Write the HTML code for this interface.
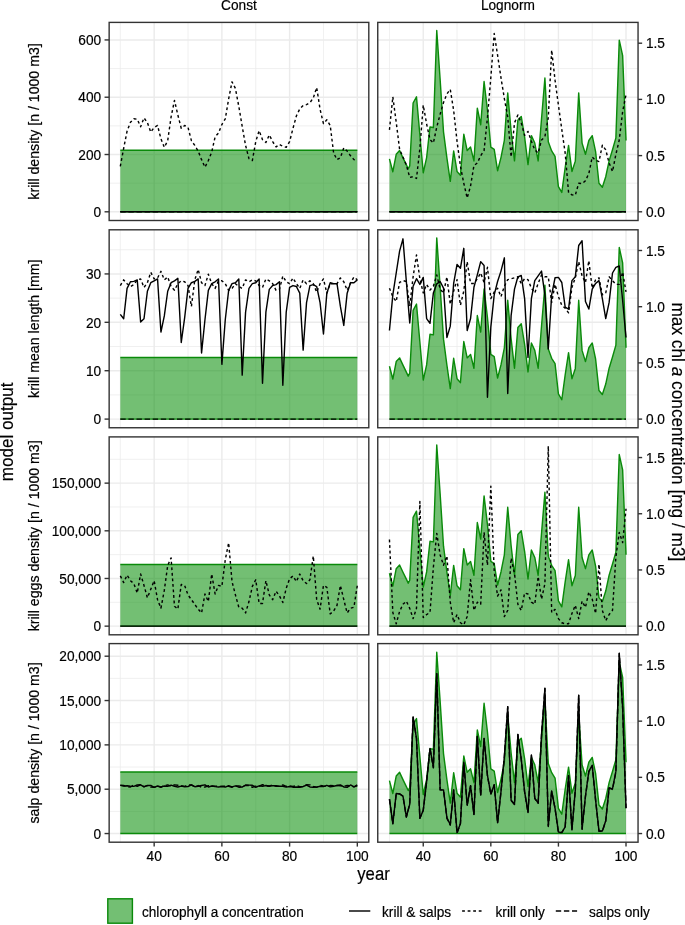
<!DOCTYPE html>
<html lang="en"><head><meta charset="utf-8"><title>Model output</title>
<style>html,body{margin:0;padding:0;background:#fff;}body{width:685px;height:925px;overflow:hidden;font-family:"Liberation Sans", Arial, Helvetica, sans-serif;}svg{display:block}svg text{stroke:#000;stroke-width:.18px;stroke-linejoin:round}</style>
</head><body>
<svg width="685" height="925" viewBox="0 0 685 925" font-family='"Liberation Sans", Arial, Helvetica, sans-serif'>
<rect width="685" height="925" fill="#fff"/>
<g>
<clipPath id="c00"><rect x="109.15" y="22.4" width="259.65" height="198.10"/></clipPath>
<g clip-path="url(#c00)">
<line x1="109.15" x2="368.80" y1="183.16" y2="183.16" stroke="#ebebeb" stroke-width="0.75"/>
<line x1="109.15" x2="368.80" y1="125.87" y2="125.87" stroke="#ebebeb" stroke-width="0.75"/>
<line x1="109.15" x2="368.80" y1="68.58" y2="68.58" stroke="#ebebeb" stroke-width="0.75"/>
<line x1="120.30" x2="120.30" y1="22.4" y2="220.5" stroke="#ebebeb" stroke-width="0.75"/>
<line x1="188.02" x2="188.02" y1="22.4" y2="220.5" stroke="#ebebeb" stroke-width="0.75"/>
<line x1="255.74" x2="255.74" y1="22.4" y2="220.5" stroke="#ebebeb" stroke-width="0.75"/>
<line x1="323.46" x2="323.46" y1="22.4" y2="220.5" stroke="#ebebeb" stroke-width="0.75"/>
<line x1="109.15" x2="368.80" y1="211.80" y2="211.80" stroke="#ebebeb" stroke-width="1.4"/>
<line x1="109.15" x2="368.80" y1="154.51" y2="154.51" stroke="#ebebeb" stroke-width="1.4"/>
<line x1="109.15" x2="368.80" y1="97.22" y2="97.22" stroke="#ebebeb" stroke-width="1.4"/>
<line x1="109.15" x2="368.80" y1="39.93" y2="39.93" stroke="#ebebeb" stroke-width="1.4"/>
<line x1="154.16" x2="154.16" y1="22.4" y2="220.5" stroke="#ebebeb" stroke-width="1.4"/>
<line x1="221.88" x2="221.88" y1="22.4" y2="220.5" stroke="#ebebeb" stroke-width="1.4"/>
<line x1="289.60" x2="289.60" y1="22.4" y2="220.5" stroke="#ebebeb" stroke-width="1.4"/>
<line x1="357.32" x2="357.32" y1="22.4" y2="220.5" stroke="#ebebeb" stroke-width="1.4"/>
<polygon points="120.30,211.80 120.30,150.20 357.32,150.20 357.32,211.80" fill="#008b00" fill-opacity="0.55" stroke="none"/>
<polyline points="120.30,150.20 357.32,150.20" fill="none" stroke="#0a8a0a" stroke-width="1.42" stroke-linejoin="round"/>
<line x1="120.30" x2="357.32" y1="211.8" y2="211.8" stroke="#0a8a0a" stroke-width="1.42"/>
<polyline points="120.30,211.80 123.69,211.80 127.07,211.80 130.46,211.80 133.84,211.80 137.23,211.80 140.62,211.80 144.00,211.80 147.39,211.80 150.77,211.80 154.16,211.80 157.55,211.80 160.93,211.80 164.32,211.80 167.70,211.80 171.09,211.80 174.48,211.80 177.86,211.80 181.25,211.80 184.63,211.80 188.02,211.80 191.41,211.80 194.79,211.80 198.18,211.80 201.56,211.80 204.95,211.80 208.34,211.80 211.72,211.80 215.11,211.80 218.49,211.80 221.88,211.80 225.27,211.80 228.65,211.80 232.04,211.80 235.42,211.80 238.81,211.80 242.20,211.80 245.58,211.80 248.97,211.80 252.35,211.80 255.74,211.80 259.13,211.80 262.51,211.80 265.90,211.80 269.28,211.80 272.67,211.80 276.06,211.80 279.44,211.80 282.83,211.80 286.21,211.80 289.60,211.80 292.99,211.80 296.37,211.80 299.76,211.80 303.14,211.80 306.53,211.80 309.92,211.80 313.30,211.80 316.69,211.80 320.07,211.80 323.46,211.80 326.85,211.80 330.23,211.80 333.62,211.80 337.00,211.80 340.39,211.80 343.78,211.80 347.16,211.80 350.55,211.80 353.93,211.80 357.32,211.80" fill="none" stroke="#000" stroke-width="1.42" stroke-linejoin="round"/>
<polyline points="120.30,211.80 123.69,211.80 127.07,211.80 130.46,211.80 133.84,211.80 137.23,211.80 140.62,211.80 144.00,211.80 147.39,211.80 150.77,211.80 154.16,211.80 157.55,211.80 160.93,211.80 164.32,211.80 167.70,211.80 171.09,211.80 174.48,211.80 177.86,211.80 181.25,211.80 184.63,211.80 188.02,211.80 191.41,211.80 194.79,211.80 198.18,211.80 201.56,211.80 204.95,211.80 208.34,211.80 211.72,211.80 215.11,211.80 218.49,211.80 221.88,211.80 225.27,211.80 228.65,211.80 232.04,211.80 235.42,211.80 238.81,211.80 242.20,211.80 245.58,211.80 248.97,211.80 252.35,211.80 255.74,211.80 259.13,211.80 262.51,211.80 265.90,211.80 269.28,211.80 272.67,211.80 276.06,211.80 279.44,211.80 282.83,211.80 286.21,211.80 289.60,211.80 292.99,211.80 296.37,211.80 299.76,211.80 303.14,211.80 306.53,211.80 309.92,211.80 313.30,211.80 316.69,211.80 320.07,211.80 323.46,211.80 326.85,211.80 330.23,211.80 333.62,211.80 337.00,211.80 340.39,211.80 343.78,211.80 347.16,211.80 350.55,211.80 353.93,211.80 357.32,211.80" fill="none" stroke="#000" stroke-width="1.42" stroke-linejoin="round" stroke-dasharray="5.4 2.7"/>
<polyline points="120.30,166.28 123.69,148.25 127.07,131.17 130.46,122.25 133.84,118.83 137.23,119.21 140.62,126.81 144.00,117.89 147.39,122.63 150.77,132.12 154.16,127.38 157.55,125.48 160.93,138.76 164.32,147.30 167.70,140.66 171.09,116.94 174.48,100.43 177.86,115.04 181.25,128.32 184.63,125.48 188.02,127.38 191.41,140.66 194.79,145.41 198.18,151.10 201.56,159.64 204.95,167.23 208.34,160.59 211.72,152.05 215.11,136.86 218.49,133.07 221.88,124.53 225.27,118.83 228.65,98.91 232.04,81.83 235.42,88.47 238.81,106.50 242.20,126.43 245.58,145.41 248.97,158.69 252.35,160.59 255.74,141.61 259.13,130.60 262.51,139.71 265.90,142.56 269.28,134.97 272.67,141.61 276.06,146.92 279.44,144.46 282.83,146.35 286.21,147.30 289.60,141.61 292.99,128.32 296.37,115.99 299.76,108.97 303.14,105.55 306.53,104.60 309.92,102.70 313.30,97.96 316.69,87.52 320.07,109.35 323.46,123.58 326.85,119.78 330.23,125.48 333.62,153.00 337.00,159.64 340.39,157.74 343.78,147.87 347.16,151.10 350.55,155.84 353.93,159.64 357.32,160.59" fill="none" stroke="#000" stroke-width="1.42" stroke-linejoin="round" stroke-dasharray="2.8 2.75"/>
</g>
<rect x="109.15" y="22.4" width="259.65" height="198.10" fill="none" stroke="#333" stroke-width="1.4"/>
</g>
<g>
<clipPath id="c10"><rect x="377.75" y="22.4" width="260.3" height="198.10"/></clipPath>
<g clip-path="url(#c10)">
<line x1="377.75" x2="638.05" y1="183.16" y2="183.16" stroke="#ebebeb" stroke-width="0.75"/>
<line x1="377.75" x2="638.05" y1="125.87" y2="125.87" stroke="#ebebeb" stroke-width="0.75"/>
<line x1="377.75" x2="638.05" y1="68.58" y2="68.58" stroke="#ebebeb" stroke-width="0.75"/>
<line x1="389.45" x2="389.45" y1="22.4" y2="220.5" stroke="#ebebeb" stroke-width="0.75"/>
<line x1="457.04" x2="457.04" y1="22.4" y2="220.5" stroke="#ebebeb" stroke-width="0.75"/>
<line x1="524.63" x2="524.63" y1="22.4" y2="220.5" stroke="#ebebeb" stroke-width="0.75"/>
<line x1="592.22" x2="592.22" y1="22.4" y2="220.5" stroke="#ebebeb" stroke-width="0.75"/>
<line x1="377.75" x2="638.05" y1="211.80" y2="211.80" stroke="#ebebeb" stroke-width="1.4"/>
<line x1="377.75" x2="638.05" y1="154.51" y2="154.51" stroke="#ebebeb" stroke-width="1.4"/>
<line x1="377.75" x2="638.05" y1="97.22" y2="97.22" stroke="#ebebeb" stroke-width="1.4"/>
<line x1="377.75" x2="638.05" y1="39.93" y2="39.93" stroke="#ebebeb" stroke-width="1.4"/>
<line x1="423.25" x2="423.25" y1="22.4" y2="220.5" stroke="#ebebeb" stroke-width="1.4"/>
<line x1="490.83" x2="490.83" y1="22.4" y2="220.5" stroke="#ebebeb" stroke-width="1.4"/>
<line x1="558.42" x2="558.42" y1="22.4" y2="220.5" stroke="#ebebeb" stroke-width="1.4"/>
<line x1="626.01" x2="626.01" y1="22.4" y2="220.5" stroke="#ebebeb" stroke-width="1.4"/>
<polygon points="389.45,211.80 389.45,158.91 392.83,171.73 396.21,154.30 399.59,150.59 402.97,157.86 406.35,164.82 408.21,168.82 409.73,165.90 413.11,103.01 416.49,96.80 419.87,134.76 423.25,172.73 426.62,157.60 430.00,126.95 433.38,127.55 436.76,30.58 440.14,79.56 443.52,131.86 446.90,157.90 450.28,181.35 453.66,150.99 457.04,171.43 460.42,175.34 463.80,134.26 467.18,150.59 470.56,147.08 473.94,160.91 477.32,108.22 480.70,124.75 484.08,81.57 487.46,110.22 490.83,147.08 494.21,149.29 497.59,170.73 500.97,157.60 504.35,140.47 507.73,92.89 511.11,131.26 514.49,160.91 517.87,120.14 521.25,116.43 524.63,137.17 528.01,164.62 531.39,135.66 534.77,143.08 538.15,160.91 541.53,118.73 544.91,77.96 548.29,141.78 551.67,150.99 555.05,156.30 558.42,186.56 561.80,192.47 565.18,167.52 568.56,145.38 571.94,171.43 575.32,161.11 578.70,92.89 582.08,143.08 585.46,154.30 588.84,140.47 592.22,135.66 595.60,151.69 598.98,183.25 602.36,187.26 605.74,176.74 609.12,160.91 612.50,149.69 615.88,137.87 619.26,40.19 622.64,55.62 626.01,140.47 626.01,211.80" fill="#008b00" fill-opacity="0.55" stroke="none"/>
<polyline points="389.45,158.91 392.83,171.73 396.21,154.30 399.59,150.59 402.97,157.86 406.35,164.82 408.21,168.82 409.73,165.90 413.11,103.01 416.49,96.80 419.87,134.76 423.25,172.73 426.62,157.60 430.00,126.95 433.38,127.55 436.76,30.58 440.14,79.56 443.52,131.86 446.90,157.90 450.28,181.35 453.66,150.99 457.04,171.43 460.42,175.34 463.80,134.26 467.18,150.59 470.56,147.08 473.94,160.91 477.32,108.22 480.70,124.75 484.08,81.57 487.46,110.22 490.83,147.08 494.21,149.29 497.59,170.73 500.97,157.60 504.35,140.47 507.73,92.89 511.11,131.26 514.49,160.91 517.87,120.14 521.25,116.43 524.63,137.17 528.01,164.62 531.39,135.66 534.77,143.08 538.15,160.91 541.53,118.73 544.91,77.96 548.29,141.78 551.67,150.99 555.05,156.30 558.42,186.56 561.80,192.47 565.18,167.52 568.56,145.38 571.94,171.43 575.32,161.11 578.70,92.89 582.08,143.08 585.46,154.30 588.84,140.47 592.22,135.66 595.60,151.69 598.98,183.25 602.36,187.26 605.74,176.74 609.12,160.91 612.50,149.69 615.88,137.87 619.26,40.19 622.64,55.62 626.01,140.47" fill="none" stroke="#0a8a0a" stroke-width="1.42" stroke-linejoin="round"/>
<line x1="389.45" x2="626.01" y1="211.8" y2="211.8" stroke="#0a8a0a" stroke-width="1.42"/>
<polyline points="389.45,211.80 392.83,211.80 396.21,211.80 399.59,211.80 402.97,211.80 406.35,211.80 409.73,211.80 413.11,211.80 416.49,211.80 419.87,211.80 423.25,211.80 426.62,211.80 430.00,211.80 433.38,211.80 436.76,211.80 440.14,211.80 443.52,211.80 446.90,211.80 450.28,211.80 453.66,211.80 457.04,211.80 460.42,211.80 463.80,211.80 467.18,211.80 470.56,211.80 473.94,211.80 477.32,211.80 480.70,211.80 484.08,211.80 487.46,211.80 490.83,211.80 494.21,211.80 497.59,211.80 500.97,211.80 504.35,211.80 507.73,211.80 511.11,211.80 514.49,211.80 517.87,211.80 521.25,211.80 524.63,211.80 528.01,211.80 531.39,211.80 534.77,211.80 538.15,211.80 541.53,211.80 544.91,211.80 548.29,211.80 551.67,211.80 555.05,211.80 558.42,211.80 561.80,211.80 565.18,211.80 568.56,211.80 571.94,211.80 575.32,211.80 578.70,211.80 582.08,211.80 585.46,211.80 588.84,211.80 592.22,211.80 595.60,211.80 598.98,211.80 602.36,211.80 605.74,211.80 609.12,211.80 612.50,211.80 615.88,211.80 619.26,211.80 622.64,211.80 626.01,211.80" fill="none" stroke="#000" stroke-width="1.42" stroke-linejoin="round"/>
<polyline points="389.45,211.80 392.83,211.80 396.21,211.80 399.59,211.80 402.97,211.80 406.35,211.80 409.73,211.80 413.11,211.80 416.49,211.80 419.87,211.80 423.25,211.80 426.62,211.80 430.00,211.80 433.38,211.80 436.76,211.80 440.14,211.80 443.52,211.80 446.90,211.80 450.28,211.80 453.66,211.80 457.04,211.80 460.42,211.80 463.80,211.80 467.18,211.80 470.56,211.80 473.94,211.80 477.32,211.80 480.70,211.80 484.08,211.80 487.46,211.80 490.83,211.80 494.21,211.80 497.59,211.80 500.97,211.80 504.35,211.80 507.73,211.80 511.11,211.80 514.49,211.80 517.87,211.80 521.25,211.80 524.63,211.80 528.01,211.80 531.39,211.80 534.77,211.80 538.15,211.80 541.53,211.80 544.91,211.80 548.29,211.80 551.67,211.80 555.05,211.80 558.42,211.80 561.80,211.80 565.18,211.80 568.56,211.80 571.94,211.80 575.32,211.80 578.70,211.80 582.08,211.80 585.46,211.80 588.84,211.80 592.22,211.80 595.60,211.80 598.98,211.80 602.36,211.80 605.74,211.80 609.12,211.80 612.50,211.80 615.88,211.80 619.26,211.80 622.64,211.80 626.01,211.80" fill="none" stroke="#000" stroke-width="1.42" stroke-linejoin="round" stroke-dasharray="5.4 2.7"/>
<polyline points="389.45,129.90 392.83,96.80 396.21,122.10 399.59,149.30 402.97,157.10 406.35,164.90 409.73,177.50 413.11,176.60 416.49,178.50 419.87,148.40 423.25,105.10 426.62,124.00 430.00,139.60 433.38,143.00 436.76,127.00 440.14,114.30 443.52,102.50 446.90,94.00 450.28,89.40 453.66,110.40 457.04,141.30 460.42,166.20 463.80,183.30 467.18,198.00 470.56,186.00 473.94,165.60 477.32,163.00 480.70,155.70 484.08,150.50 487.46,117.60 490.83,77.60 494.21,33.50 497.59,55.20 500.97,77.60 504.35,98.60 507.73,117.00 511.11,157.00 514.49,122.90 517.87,115.00 521.25,122.90 524.63,135.40 528.01,131.40 531.39,141.30 534.77,149.80 538.15,153.10 541.53,140.00 544.91,136.70 548.29,117.60 551.67,50.00 555.05,80.20 558.42,105.10 561.80,129.50 565.18,153.10 568.56,192.50 571.94,194.90 575.32,195.10 578.70,183.30 582.08,183.60 585.46,180.70 588.84,173.50 592.22,157.00 595.60,160.30 598.98,161.60 602.36,145.20 605.74,149.80 609.12,163.00 612.50,171.50 615.88,154.40 619.26,140.00 622.64,111.70 626.01,94.60" fill="none" stroke="#000" stroke-width="1.42" stroke-linejoin="round" stroke-dasharray="2.8 2.75"/>
</g>
<rect x="377.75" y="22.4" width="260.3" height="198.10" fill="none" stroke="#333" stroke-width="1.4"/>
</g>
<line x1="104.55" x2="109.15" y1="211.80" y2="211.80" stroke="#333" stroke-width="1.4"/>
<text transform="translate(101.20,217.00) scale(1,1.07)" font-size="13.7" text-anchor="end" fill="#000">0</text>
<line x1="104.55" x2="109.15" y1="154.51" y2="154.51" stroke="#333" stroke-width="1.4"/>
<text transform="translate(101.20,159.71) scale(1,1.07)" font-size="13.7" text-anchor="end" fill="#000">200</text>
<line x1="104.55" x2="109.15" y1="97.22" y2="97.22" stroke="#333" stroke-width="1.4"/>
<text transform="translate(101.20,102.42) scale(1,1.07)" font-size="13.7" text-anchor="end" fill="#000">400</text>
<line x1="104.55" x2="109.15" y1="39.93" y2="39.93" stroke="#333" stroke-width="1.4"/>
<text transform="translate(101.20,45.13) scale(1,1.07)" font-size="13.7" text-anchor="end" fill="#000">600</text>
<line x1="638.05" x2="642.15" y1="211.80" y2="211.80" stroke="#333" stroke-width="1.4"/>
<text transform="translate(645.90,216.80) scale(1,1.07)" font-size="13.7" text-anchor="start" fill="#000">0.0</text>
<line x1="638.05" x2="642.15" y1="155.60" y2="155.60" stroke="#333" stroke-width="1.4"/>
<text transform="translate(645.90,160.60) scale(1,1.07)" font-size="13.7" text-anchor="start" fill="#000">0.5</text>
<line x1="638.05" x2="642.15" y1="99.40" y2="99.40" stroke="#333" stroke-width="1.4"/>
<text transform="translate(645.90,104.40) scale(1,1.07)" font-size="13.7" text-anchor="start" fill="#000">1.0</text>
<line x1="638.05" x2="642.15" y1="43.20" y2="43.20" stroke="#333" stroke-width="1.4"/>
<text transform="translate(645.90,48.20) scale(1,1.07)" font-size="13.7" text-anchor="start" fill="#000">1.5</text>
<text transform="translate(38.90,121.45) rotate(-90) scale(1,1.07)" font-size="14.15" text-anchor="middle" fill="#000">krill density [n / 1000 m3]</text>
<g>
<clipPath id="c01"><rect x="109.15" y="229.8" width="259.65" height="197.95"/></clipPath>
<g clip-path="url(#c01)">
<line x1="109.15" x2="368.80" y1="394.91" y2="394.91" stroke="#ebebeb" stroke-width="0.75"/>
<line x1="109.15" x2="368.80" y1="346.51" y2="346.51" stroke="#ebebeb" stroke-width="0.75"/>
<line x1="109.15" x2="368.80" y1="298.12" y2="298.12" stroke="#ebebeb" stroke-width="0.75"/>
<line x1="109.15" x2="368.80" y1="249.74" y2="249.74" stroke="#ebebeb" stroke-width="0.75"/>
<line x1="120.30" x2="120.30" y1="229.8" y2="427.75" stroke="#ebebeb" stroke-width="0.75"/>
<line x1="188.02" x2="188.02" y1="229.8" y2="427.75" stroke="#ebebeb" stroke-width="0.75"/>
<line x1="255.74" x2="255.74" y1="229.8" y2="427.75" stroke="#ebebeb" stroke-width="0.75"/>
<line x1="323.46" x2="323.46" y1="229.8" y2="427.75" stroke="#ebebeb" stroke-width="0.75"/>
<line x1="109.15" x2="368.80" y1="419.10" y2="419.10" stroke="#ebebeb" stroke-width="1.4"/>
<line x1="109.15" x2="368.80" y1="370.71" y2="370.71" stroke="#ebebeb" stroke-width="1.4"/>
<line x1="109.15" x2="368.80" y1="322.32" y2="322.32" stroke="#ebebeb" stroke-width="1.4"/>
<line x1="109.15" x2="368.80" y1="273.93" y2="273.93" stroke="#ebebeb" stroke-width="1.4"/>
<line x1="154.16" x2="154.16" y1="229.8" y2="427.75" stroke="#ebebeb" stroke-width="1.4"/>
<line x1="221.88" x2="221.88" y1="229.8" y2="427.75" stroke="#ebebeb" stroke-width="1.4"/>
<line x1="289.60" x2="289.60" y1="229.8" y2="427.75" stroke="#ebebeb" stroke-width="1.4"/>
<line x1="357.32" x2="357.32" y1="229.8" y2="427.75" stroke="#ebebeb" stroke-width="1.4"/>
<polygon points="120.30,419.10 120.30,357.50 357.32,357.50 357.32,419.10" fill="#008b00" fill-opacity="0.55" stroke="none"/>
<polyline points="120.30,357.50 357.32,357.50" fill="none" stroke="#0a8a0a" stroke-width="1.42" stroke-linejoin="round"/>
<line x1="120.30" x2="357.32" y1="419.1" y2="419.1" stroke="#0a8a0a" stroke-width="1.42"/>
<polyline points="120.30,419.10 123.69,419.10 127.07,419.10 130.46,419.10 133.84,419.10 137.23,419.10 140.62,419.10 144.00,419.10 147.39,419.10 150.77,419.10 154.16,419.10 157.55,419.10 160.93,419.10 164.32,419.10 167.70,419.10 171.09,419.10 174.48,419.10 177.86,419.10 181.25,419.10 184.63,419.10 188.02,419.10 191.41,419.10 194.79,419.10 198.18,419.10 201.56,419.10 204.95,419.10 208.34,419.10 211.72,419.10 215.11,419.10 218.49,419.10 221.88,419.10 225.27,419.10 228.65,419.10 232.04,419.10 235.42,419.10 238.81,419.10 242.20,419.10 245.58,419.10 248.97,419.10 252.35,419.10 255.74,419.10 259.13,419.10 262.51,419.10 265.90,419.10 269.28,419.10 272.67,419.10 276.06,419.10 279.44,419.10 282.83,419.10 286.21,419.10 289.60,419.10 292.99,419.10 296.37,419.10 299.76,419.10 303.14,419.10 306.53,419.10 309.92,419.10 313.30,419.10 316.69,419.10 320.07,419.10 323.46,419.10 326.85,419.10 330.23,419.10 333.62,419.10 337.00,419.10 340.39,419.10 343.78,419.10 347.16,419.10 350.55,419.10 353.93,419.10 357.32,419.10" fill="none" stroke="#000" stroke-width="1.42" stroke-linejoin="round" stroke-dasharray="5.4 2.7"/>
<polyline points="120.30,314.41 123.69,318.78 127.07,288.41 130.46,281.77 133.84,281.39 137.23,279.87 140.62,322.01 144.00,318.78 147.39,291.26 150.77,282.72 154.16,280.82 157.55,278.92 160.93,332.06 164.32,315.93 167.70,291.26 171.09,282.72 174.48,280.82 177.86,278.35 181.25,342.50 184.63,317.83 188.02,288.41 191.41,282.72 194.79,281.39 198.18,278.92 201.56,352.94 204.95,319.73 208.34,290.31 211.72,283.67 215.11,281.77 218.49,278.92 221.88,364.33 225.27,319.73 228.65,290.31 232.04,283.67 235.42,282.72 238.81,278.92 242.20,375.15 245.58,312.14 248.97,288.41 252.35,283.67 255.74,282.72 259.13,278.92 262.51,383.31 265.90,312.14 269.28,289.36 272.67,285.57 276.06,284.62 279.44,281.77 282.83,385.21 286.21,312.14 289.60,287.46 292.99,285.57 296.37,286.52 299.76,293.16 303.14,350.09 306.53,302.65 309.92,285.57 313.30,284.62 316.69,286.52 320.07,302.65 323.46,333.96 326.85,293.16 330.23,282.72 333.62,283.67 337.00,283.67 340.39,306.44 343.78,325.42 347.16,293.16 350.55,282.72 353.93,282.72 357.32,279.87" fill="none" stroke="#000" stroke-width="1.42" stroke-linejoin="round"/>
<polyline points="120.30,285.57 123.69,279.87 127.07,283.67 130.46,286.52 133.84,284.62 137.23,279.87 140.62,278.92 144.00,287.46 147.39,282.72 150.77,272.28 154.16,278.92 157.55,277.97 160.93,271.33 164.32,279.87 167.70,277.03 171.09,286.52 174.48,290.31 177.86,283.67 181.25,280.82 184.63,281.77 188.02,285.57 191.41,306.44 194.79,279.87 198.18,269.43 201.56,282.72 204.95,285.57 208.34,274.18 211.72,283.67 215.11,288.41 218.49,280.82 221.88,280.82 225.27,283.67 228.65,290.31 232.04,288.41 235.42,283.67 238.81,286.52 242.20,288.41 245.58,279.87 248.97,281.77 252.35,279.87 255.74,280.82 259.13,285.57 262.51,287.46 265.90,278.92 269.28,280.82 272.67,283.67 276.06,290.31 279.44,289.36 282.83,276.08 286.21,281.77 289.60,283.67 292.99,277.97 296.37,283.67 299.76,288.41 303.14,279.87 306.53,283.67 309.92,280.82 313.30,283.67 316.69,292.21 320.07,283.67 323.46,278.92 326.85,293.16 330.23,283.67 333.62,283.67 337.00,283.67 340.39,277.97 343.78,281.77 347.16,290.31 350.55,282.72 353.93,277.03 357.32,279.87" fill="none" stroke="#000" stroke-width="1.42" stroke-linejoin="round" stroke-dasharray="2.8 2.75"/>
</g>
<rect x="109.15" y="229.8" width="259.65" height="197.95" fill="none" stroke="#333" stroke-width="1.4"/>
</g>
<g>
<clipPath id="c11"><rect x="377.75" y="229.8" width="260.3" height="197.95"/></clipPath>
<g clip-path="url(#c11)">
<line x1="377.75" x2="638.05" y1="394.91" y2="394.91" stroke="#ebebeb" stroke-width="0.75"/>
<line x1="377.75" x2="638.05" y1="346.51" y2="346.51" stroke="#ebebeb" stroke-width="0.75"/>
<line x1="377.75" x2="638.05" y1="298.12" y2="298.12" stroke="#ebebeb" stroke-width="0.75"/>
<line x1="377.75" x2="638.05" y1="249.74" y2="249.74" stroke="#ebebeb" stroke-width="0.75"/>
<line x1="389.45" x2="389.45" y1="229.8" y2="427.75" stroke="#ebebeb" stroke-width="0.75"/>
<line x1="457.04" x2="457.04" y1="229.8" y2="427.75" stroke="#ebebeb" stroke-width="0.75"/>
<line x1="524.63" x2="524.63" y1="229.8" y2="427.75" stroke="#ebebeb" stroke-width="0.75"/>
<line x1="592.22" x2="592.22" y1="229.8" y2="427.75" stroke="#ebebeb" stroke-width="0.75"/>
<line x1="377.75" x2="638.05" y1="419.10" y2="419.10" stroke="#ebebeb" stroke-width="1.4"/>
<line x1="377.75" x2="638.05" y1="370.71" y2="370.71" stroke="#ebebeb" stroke-width="1.4"/>
<line x1="377.75" x2="638.05" y1="322.32" y2="322.32" stroke="#ebebeb" stroke-width="1.4"/>
<line x1="377.75" x2="638.05" y1="273.93" y2="273.93" stroke="#ebebeb" stroke-width="1.4"/>
<line x1="423.25" x2="423.25" y1="229.8" y2="427.75" stroke="#ebebeb" stroke-width="1.4"/>
<line x1="490.83" x2="490.83" y1="229.8" y2="427.75" stroke="#ebebeb" stroke-width="1.4"/>
<line x1="558.42" x2="558.42" y1="229.8" y2="427.75" stroke="#ebebeb" stroke-width="1.4"/>
<line x1="626.01" x2="626.01" y1="229.8" y2="427.75" stroke="#ebebeb" stroke-width="1.4"/>
<polygon points="389.45,419.10 389.45,366.21 392.83,379.03 396.21,361.60 399.59,357.89 402.97,365.16 406.35,372.12 408.21,376.12 409.73,373.20 413.11,310.31 416.49,304.10 419.87,342.06 423.25,380.03 426.62,364.90 430.00,334.25 433.38,334.85 436.76,237.88 440.14,286.86 443.52,339.16 446.90,365.20 450.28,388.65 453.66,358.29 457.04,378.73 460.42,382.64 463.80,341.56 467.18,357.89 470.56,354.38 473.94,368.21 477.32,315.52 480.70,332.05 484.08,288.87 487.46,317.52 490.83,354.38 494.21,356.59 497.59,378.03 500.97,364.90 504.35,347.77 507.73,300.19 511.11,338.56 514.49,368.21 517.87,327.44 521.25,323.73 524.63,344.47 528.01,371.92 531.39,342.96 534.77,350.38 538.15,368.21 541.53,326.03 544.91,285.26 548.29,349.08 551.67,358.29 555.05,363.60 558.42,393.86 561.80,399.77 565.18,374.82 568.56,352.68 571.94,378.73 575.32,368.41 578.70,300.19 582.08,350.38 585.46,361.60 588.84,347.77 592.22,342.96 595.60,358.99 598.98,390.55 602.36,394.56 605.74,384.04 609.12,368.21 612.50,356.99 615.88,345.17 619.26,247.49 622.64,262.92 626.01,347.77 626.01,419.10" fill="#008b00" fill-opacity="0.55" stroke="none"/>
<polyline points="389.45,366.21 392.83,379.03 396.21,361.60 399.59,357.89 402.97,365.16 406.35,372.12 408.21,376.12 409.73,373.20 413.11,310.31 416.49,304.10 419.87,342.06 423.25,380.03 426.62,364.90 430.00,334.25 433.38,334.85 436.76,237.88 440.14,286.86 443.52,339.16 446.90,365.20 450.28,388.65 453.66,358.29 457.04,378.73 460.42,382.64 463.80,341.56 467.18,357.89 470.56,354.38 473.94,368.21 477.32,315.52 480.70,332.05 484.08,288.87 487.46,317.52 490.83,354.38 494.21,356.59 497.59,378.03 500.97,364.90 504.35,347.77 507.73,300.19 511.11,338.56 514.49,368.21 517.87,327.44 521.25,323.73 524.63,344.47 528.01,371.92 531.39,342.96 534.77,350.38 538.15,368.21 541.53,326.03 544.91,285.26 548.29,349.08 551.67,358.29 555.05,363.60 558.42,393.86 561.80,399.77 565.18,374.82 568.56,352.68 571.94,378.73 575.32,368.41 578.70,300.19 582.08,350.38 585.46,361.60 588.84,347.77 592.22,342.96 595.60,358.99 598.98,390.55 602.36,394.56 605.74,384.04 609.12,368.21 612.50,356.99 615.88,345.17 619.26,247.49 622.64,262.92 626.01,347.77" fill="none" stroke="#0a8a0a" stroke-width="1.42" stroke-linejoin="round"/>
<line x1="389.45" x2="626.01" y1="419.1" y2="419.1" stroke="#0a8a0a" stroke-width="1.42"/>
<polyline points="389.45,419.10 392.83,419.10 396.21,419.10 399.59,419.10 402.97,419.10 406.35,419.10 409.73,419.10 413.11,419.10 416.49,419.10 419.87,419.10 423.25,419.10 426.62,419.10 430.00,419.10 433.38,419.10 436.76,419.10 440.14,419.10 443.52,419.10 446.90,419.10 450.28,419.10 453.66,419.10 457.04,419.10 460.42,419.10 463.80,419.10 467.18,419.10 470.56,419.10 473.94,419.10 477.32,419.10 480.70,419.10 484.08,419.10 487.46,419.10 490.83,419.10 494.21,419.10 497.59,419.10 500.97,419.10 504.35,419.10 507.73,419.10 511.11,419.10 514.49,419.10 517.87,419.10 521.25,419.10 524.63,419.10 528.01,419.10 531.39,419.10 534.77,419.10 538.15,419.10 541.53,419.10 544.91,419.10 548.29,419.10 551.67,419.10 555.05,419.10 558.42,419.10 561.80,419.10 565.18,419.10 568.56,419.10 571.94,419.10 575.32,419.10 578.70,419.10 582.08,419.10 585.46,419.10 588.84,419.10 592.22,419.10 595.60,419.10 598.98,419.10 602.36,419.10 605.74,419.10 609.12,419.10 612.50,419.10 615.88,419.10 619.26,419.10 622.64,419.10 626.01,419.10" fill="none" stroke="#000" stroke-width="1.42" stroke-linejoin="round" stroke-dasharray="5.4 2.7"/>
<polyline points="389.45,330.51 392.83,294.83 396.21,273.00 399.59,251.18 402.97,238.84 406.35,281.55 409.73,322.92 413.11,286.29 416.49,278.70 419.87,284.39 423.25,277.37 426.62,318.55 430.00,323.30 433.38,292.93 436.76,283.82 440.14,281.55 443.52,288.19 446.90,337.53 450.28,326.15 453.66,283.44 457.04,264.46 460.42,268.26 463.80,248.33 467.18,330.51 470.56,318.55 473.94,287.24 477.32,274.90 480.70,261.62 484.08,265.41 487.46,397.32 490.83,327.09 494.21,294.83 497.59,281.55 500.97,271.11 504.35,257.82 507.73,393.52 511.11,315.71 514.49,289.14 517.87,276.80 521.25,275.47 524.63,298.63 528.01,357.46 531.39,298.63 534.77,280.60 538.15,275.85 541.53,271.11 544.91,294.83 548.29,348.92 551.67,294.83 555.05,277.75 558.42,277.37 561.80,282.49 565.18,307.17 568.56,309.06 571.94,280.60 575.32,276.80 578.70,245.49 582.08,240.74 585.46,301.47 588.84,309.06 592.22,289.14 595.60,283.44 598.98,280.60 602.36,298.63 605.74,318.55 609.12,302.42 612.50,273.00 615.88,267.31 619.26,265.98 622.64,300.52 626.01,337.53" fill="none" stroke="#000" stroke-width="1.42" stroke-linejoin="round"/>
<polyline points="389.45,288.19 392.83,296.73 396.21,301.47 399.59,282.49 402.97,280.60 406.35,281.55 409.73,306.22 413.11,276.80 416.49,254.97 419.87,278.70 423.25,292.93 426.62,284.39 430.00,290.09 433.38,286.29 436.76,274.90 440.14,289.14 443.52,292.93 446.90,276.80 450.28,304.32 453.66,291.03 457.04,279.65 460.42,305.27 463.80,291.03 467.18,261.62 470.56,283.44 473.94,283.44 477.32,278.70 480.70,273.00 484.08,282.49 487.46,267.31 490.83,298.63 494.21,291.98 497.59,288.19 500.97,296.73 504.35,286.29 507.73,279.65 511.11,278.70 514.49,277.75 517.87,276.80 521.25,283.44 524.63,278.70 528.01,279.65 531.39,288.19 534.77,292.93 538.15,283.44 541.53,274.90 544.91,276.80 548.29,276.80 551.67,302.42 555.05,284.39 558.42,296.73 561.80,305.27 565.18,308.12 568.56,312.86 571.94,287.24 575.32,277.75 578.70,261.62 582.08,275.85 585.46,282.49 588.84,260.67 592.22,288.19 595.60,279.65 598.98,277.75 602.36,294.83 605.74,292.93 609.12,276.80 612.50,280.60 615.88,284.39 619.26,284.39 622.64,272.06 626.01,291.98" fill="none" stroke="#000" stroke-width="1.42" stroke-linejoin="round" stroke-dasharray="2.8 2.75"/>
</g>
<rect x="377.75" y="229.8" width="260.3" height="197.95" fill="none" stroke="#333" stroke-width="1.4"/>
</g>
<line x1="104.55" x2="109.15" y1="419.10" y2="419.10" stroke="#333" stroke-width="1.4"/>
<text transform="translate(101.20,424.30) scale(1,1.07)" font-size="13.7" text-anchor="end" fill="#000">0</text>
<line x1="104.55" x2="109.15" y1="370.71" y2="370.71" stroke="#333" stroke-width="1.4"/>
<text transform="translate(101.20,375.91) scale(1,1.07)" font-size="13.7" text-anchor="end" fill="#000">10</text>
<line x1="104.55" x2="109.15" y1="322.32" y2="322.32" stroke="#333" stroke-width="1.4"/>
<text transform="translate(101.20,327.52) scale(1,1.07)" font-size="13.7" text-anchor="end" fill="#000">20</text>
<line x1="104.55" x2="109.15" y1="273.93" y2="273.93" stroke="#333" stroke-width="1.4"/>
<text transform="translate(101.20,279.13) scale(1,1.07)" font-size="13.7" text-anchor="end" fill="#000">30</text>
<line x1="638.05" x2="642.15" y1="419.10" y2="419.10" stroke="#333" stroke-width="1.4"/>
<text transform="translate(645.90,424.10) scale(1,1.07)" font-size="13.7" text-anchor="start" fill="#000">0.0</text>
<line x1="638.05" x2="642.15" y1="362.90" y2="362.90" stroke="#333" stroke-width="1.4"/>
<text transform="translate(645.90,367.90) scale(1,1.07)" font-size="13.7" text-anchor="start" fill="#000">0.5</text>
<line x1="638.05" x2="642.15" y1="306.70" y2="306.70" stroke="#333" stroke-width="1.4"/>
<text transform="translate(645.90,311.70) scale(1,1.07)" font-size="13.7" text-anchor="start" fill="#000">1.0</text>
<line x1="638.05" x2="642.15" y1="250.50" y2="250.50" stroke="#333" stroke-width="1.4"/>
<text transform="translate(645.90,255.50) scale(1,1.07)" font-size="13.7" text-anchor="start" fill="#000">1.5</text>
<text transform="translate(38.90,328.77) rotate(-90) scale(1,1.07)" font-size="14.15" text-anchor="middle" fill="#000">krill mean length [mm]</text>
<g>
<clipPath id="c02"><rect x="109.15" y="436.9" width="259.65" height="197.90"/></clipPath>
<g clip-path="url(#c02)">
<line x1="109.15" x2="368.80" y1="602.31" y2="602.31" stroke="#ebebeb" stroke-width="0.75"/>
<line x1="109.15" x2="368.80" y1="554.64" y2="554.64" stroke="#ebebeb" stroke-width="0.75"/>
<line x1="109.15" x2="368.80" y1="506.97" y2="506.97" stroke="#ebebeb" stroke-width="0.75"/>
<line x1="109.15" x2="368.80" y1="459.30" y2="459.30" stroke="#ebebeb" stroke-width="0.75"/>
<line x1="120.30" x2="120.30" y1="436.9" y2="634.8" stroke="#ebebeb" stroke-width="0.75"/>
<line x1="188.02" x2="188.02" y1="436.9" y2="634.8" stroke="#ebebeb" stroke-width="0.75"/>
<line x1="255.74" x2="255.74" y1="436.9" y2="634.8" stroke="#ebebeb" stroke-width="0.75"/>
<line x1="323.46" x2="323.46" y1="436.9" y2="634.8" stroke="#ebebeb" stroke-width="0.75"/>
<line x1="109.15" x2="368.80" y1="626.15" y2="626.15" stroke="#ebebeb" stroke-width="1.4"/>
<line x1="109.15" x2="368.80" y1="578.48" y2="578.48" stroke="#ebebeb" stroke-width="1.4"/>
<line x1="109.15" x2="368.80" y1="530.81" y2="530.81" stroke="#ebebeb" stroke-width="1.4"/>
<line x1="109.15" x2="368.80" y1="483.14" y2="483.14" stroke="#ebebeb" stroke-width="1.4"/>
<line x1="154.16" x2="154.16" y1="436.9" y2="634.8" stroke="#ebebeb" stroke-width="1.4"/>
<line x1="221.88" x2="221.88" y1="436.9" y2="634.8" stroke="#ebebeb" stroke-width="1.4"/>
<line x1="289.60" x2="289.60" y1="436.9" y2="634.8" stroke="#ebebeb" stroke-width="1.4"/>
<line x1="357.32" x2="357.32" y1="436.9" y2="634.8" stroke="#ebebeb" stroke-width="1.4"/>
<polygon points="120.30,626.15 120.30,564.55 357.32,564.55 357.32,626.15" fill="#008b00" fill-opacity="0.55" stroke="none"/>
<polyline points="120.30,564.55 357.32,564.55" fill="none" stroke="#0a8a0a" stroke-width="1.42" stroke-linejoin="round"/>
<line x1="120.30" x2="357.32" y1="626.15" y2="626.15" stroke="#0a8a0a" stroke-width="1.42"/>
<polyline points="120.30,626.15 123.69,626.15 127.07,626.15 130.46,626.15 133.84,626.15 137.23,626.15 140.62,626.15 144.00,626.15 147.39,626.15 150.77,626.15 154.16,626.15 157.55,626.15 160.93,626.15 164.32,626.15 167.70,626.15 171.09,626.15 174.48,626.15 177.86,626.15 181.25,626.15 184.63,626.15 188.02,626.15 191.41,626.15 194.79,626.15 198.18,626.15 201.56,626.15 204.95,626.15 208.34,626.15 211.72,626.15 215.11,626.15 218.49,626.15 221.88,626.15 225.27,626.15 228.65,626.15 232.04,626.15 235.42,626.15 238.81,626.15 242.20,626.15 245.58,626.15 248.97,626.15 252.35,626.15 255.74,626.15 259.13,626.15 262.51,626.15 265.90,626.15 269.28,626.15 272.67,626.15 276.06,626.15 279.44,626.15 282.83,626.15 286.21,626.15 289.60,626.15 292.99,626.15 296.37,626.15 299.76,626.15 303.14,626.15 306.53,626.15 309.92,626.15 313.30,626.15 316.69,626.15 320.07,626.15 323.46,626.15 326.85,626.15 330.23,626.15 333.62,626.15 337.00,626.15 340.39,626.15 343.78,626.15 347.16,626.15 350.55,626.15 353.93,626.15 357.32,626.15" fill="none" stroke="#000" stroke-width="1.42" stroke-linejoin="round"/>
<polyline points="120.30,575.94 123.69,582.58 127.07,574.99 130.46,580.68 133.84,583.53 137.23,593.02 140.62,574.04 144.00,585.43 147.39,597.76 150.77,589.22 154.16,580.68 157.55,599.66 160.93,608.20 164.32,590.17 167.70,565.50 171.09,557.91 174.48,606.30 177.86,609.15 181.25,584.48 184.63,585.43 188.02,594.92 191.41,599.66 194.79,604.41 198.18,609.15 201.56,612.95 204.95,593.97 208.34,601.56 211.72,574.04 215.11,593.97 218.49,585.43 221.88,586.38 225.27,559.81 228.65,542.72 232.04,581.63 235.42,594.92 238.81,607.25 242.20,608.20 245.58,612.95 248.97,601.56 252.35,586.38 255.74,579.73 259.13,603.46 262.51,603.46 265.90,580.68 269.28,594.92 272.67,599.66 276.06,591.12 279.44,595.87 282.83,602.51 286.21,588.27 289.60,578.78 292.99,575.94 296.37,581.63 299.76,574.04 303.14,580.68 306.53,583.53 309.92,579.73 313.30,556.01 316.69,599.66 320.07,609.15 323.46,585.43 326.85,587.33 330.23,613.90 333.62,611.05 337.00,605.36 340.39,585.43 343.78,599.66 347.16,612.95 350.55,608.20 353.93,607.25 357.32,585.43" fill="none" stroke="#000" stroke-width="1.42" stroke-linejoin="round" stroke-dasharray="2.8 2.75"/>
</g>
<rect x="109.15" y="436.9" width="259.65" height="197.90" fill="none" stroke="#333" stroke-width="1.4"/>
</g>
<g>
<clipPath id="c12"><rect x="377.75" y="436.9" width="260.3" height="197.90"/></clipPath>
<g clip-path="url(#c12)">
<line x1="377.75" x2="638.05" y1="602.31" y2="602.31" stroke="#ebebeb" stroke-width="0.75"/>
<line x1="377.75" x2="638.05" y1="554.64" y2="554.64" stroke="#ebebeb" stroke-width="0.75"/>
<line x1="377.75" x2="638.05" y1="506.97" y2="506.97" stroke="#ebebeb" stroke-width="0.75"/>
<line x1="377.75" x2="638.05" y1="459.30" y2="459.30" stroke="#ebebeb" stroke-width="0.75"/>
<line x1="389.45" x2="389.45" y1="436.9" y2="634.8" stroke="#ebebeb" stroke-width="0.75"/>
<line x1="457.04" x2="457.04" y1="436.9" y2="634.8" stroke="#ebebeb" stroke-width="0.75"/>
<line x1="524.63" x2="524.63" y1="436.9" y2="634.8" stroke="#ebebeb" stroke-width="0.75"/>
<line x1="592.22" x2="592.22" y1="436.9" y2="634.8" stroke="#ebebeb" stroke-width="0.75"/>
<line x1="377.75" x2="638.05" y1="626.15" y2="626.15" stroke="#ebebeb" stroke-width="1.4"/>
<line x1="377.75" x2="638.05" y1="578.48" y2="578.48" stroke="#ebebeb" stroke-width="1.4"/>
<line x1="377.75" x2="638.05" y1="530.81" y2="530.81" stroke="#ebebeb" stroke-width="1.4"/>
<line x1="377.75" x2="638.05" y1="483.14" y2="483.14" stroke="#ebebeb" stroke-width="1.4"/>
<line x1="423.25" x2="423.25" y1="436.9" y2="634.8" stroke="#ebebeb" stroke-width="1.4"/>
<line x1="490.83" x2="490.83" y1="436.9" y2="634.8" stroke="#ebebeb" stroke-width="1.4"/>
<line x1="558.42" x2="558.42" y1="436.9" y2="634.8" stroke="#ebebeb" stroke-width="1.4"/>
<line x1="626.01" x2="626.01" y1="436.9" y2="634.8" stroke="#ebebeb" stroke-width="1.4"/>
<polygon points="389.45,626.15 389.45,573.26 392.83,586.08 396.21,568.65 399.59,564.94 402.97,572.21 406.35,579.17 408.21,583.17 409.73,580.25 413.11,517.36 416.49,511.15 419.87,549.11 423.25,587.08 426.62,571.95 430.00,541.30 433.38,541.90 436.76,444.93 440.14,493.91 443.52,546.21 446.90,572.25 450.28,595.70 453.66,565.34 457.04,585.78 460.42,589.69 463.80,548.61 467.18,564.94 470.56,561.43 473.94,575.26 477.32,522.57 480.70,539.10 484.08,495.92 487.46,524.57 490.83,561.43 494.21,563.64 497.59,585.08 500.97,571.95 504.35,554.82 507.73,507.24 511.11,545.61 514.49,575.26 517.87,534.49 521.25,530.78 524.63,551.52 528.01,578.97 531.39,550.01 534.77,557.43 538.15,575.26 541.53,533.08 544.91,492.31 548.29,556.13 551.67,565.34 555.05,570.65 558.42,600.91 561.80,606.82 565.18,581.87 568.56,559.73 571.94,585.78 575.32,575.46 578.70,507.24 582.08,557.43 585.46,568.65 588.84,554.82 592.22,550.01 595.60,566.04 598.98,597.60 602.36,601.61 605.74,591.09 609.12,575.26 612.50,564.04 615.88,552.22 619.26,454.54 622.64,469.97 626.01,554.82 626.01,626.15" fill="#008b00" fill-opacity="0.55" stroke="none"/>
<polyline points="389.45,573.26 392.83,586.08 396.21,568.65 399.59,564.94 402.97,572.21 406.35,579.17 408.21,583.17 409.73,580.25 413.11,517.36 416.49,511.15 419.87,549.11 423.25,587.08 426.62,571.95 430.00,541.30 433.38,541.90 436.76,444.93 440.14,493.91 443.52,546.21 446.90,572.25 450.28,595.70 453.66,565.34 457.04,585.78 460.42,589.69 463.80,548.61 467.18,564.94 470.56,561.43 473.94,575.26 477.32,522.57 480.70,539.10 484.08,495.92 487.46,524.57 490.83,561.43 494.21,563.64 497.59,585.08 500.97,571.95 504.35,554.82 507.73,507.24 511.11,545.61 514.49,575.26 517.87,534.49 521.25,530.78 524.63,551.52 528.01,578.97 531.39,550.01 534.77,557.43 538.15,575.26 541.53,533.08 544.91,492.31 548.29,556.13 551.67,565.34 555.05,570.65 558.42,600.91 561.80,606.82 565.18,581.87 568.56,559.73 571.94,585.78 575.32,575.46 578.70,507.24 582.08,557.43 585.46,568.65 588.84,554.82 592.22,550.01 595.60,566.04 598.98,597.60 602.36,601.61 605.74,591.09 609.12,575.26 612.50,564.04 615.88,552.22 619.26,454.54 622.64,469.97 626.01,554.82" fill="none" stroke="#0a8a0a" stroke-width="1.42" stroke-linejoin="round"/>
<line x1="389.45" x2="626.01" y1="626.15" y2="626.15" stroke="#0a8a0a" stroke-width="1.42"/>
<polyline points="389.45,626.15 392.83,626.15 396.21,626.15 399.59,626.15 402.97,626.15 406.35,626.15 409.73,626.15 413.11,626.15 416.49,626.15 419.87,626.15 423.25,626.15 426.62,626.15 430.00,626.15 433.38,626.15 436.76,626.15 440.14,626.15 443.52,626.15 446.90,626.15 450.28,626.15 453.66,626.15 457.04,626.15 460.42,626.15 463.80,626.15 467.18,626.15 470.56,626.15 473.94,626.15 477.32,626.15 480.70,626.15 484.08,626.15 487.46,626.15 490.83,626.15 494.21,626.15 497.59,626.15 500.97,626.15 504.35,626.15 507.73,626.15 511.11,626.15 514.49,626.15 517.87,626.15 521.25,626.15 524.63,626.15 528.01,626.15 531.39,626.15 534.77,626.15 538.15,626.15 541.53,626.15 544.91,626.15 548.29,626.15 551.67,626.15 555.05,626.15 558.42,626.15 561.80,626.15 565.18,626.15 568.56,626.15 571.94,626.15 575.32,626.15 578.70,626.15 582.08,626.15 585.46,626.15 588.84,626.15 592.22,626.15 595.60,626.15 598.98,626.15 602.36,626.15 605.74,626.15 609.12,626.15 612.50,626.15 615.88,626.15 619.26,626.15 622.64,626.15 626.01,626.15" fill="none" stroke="#000" stroke-width="1.42" stroke-linejoin="round"/>
<polyline points="389.45,539.56 392.83,612.47 396.21,623.77 399.59,611.44 402.97,604.25 406.35,601.17 409.73,608.36 413.11,618.63 416.49,608.36 419.87,501.56 423.25,617.60 426.62,614.52 430.00,612.47 433.38,567.29 436.76,533.40 440.14,554.96 443.52,565.23 446.90,555.99 450.28,602.20 453.66,622.74 457.04,614.52 460.42,622.74 463.80,624.79 467.18,616.58 470.56,579.61 473.94,610.42 477.32,602.20 480.70,604.25 484.08,532.37 487.46,565.23 490.83,486.16 494.21,571.39 497.59,596.04 500.97,589.88 504.35,616.58 507.73,610.42 511.11,558.04 514.49,573.45 517.87,604.25 521.25,610.42 524.63,592.96 528.01,593.99 531.39,602.20 534.77,604.25 538.15,576.53 541.53,599.12 544.91,583.72 548.29,446.11 551.67,612.47 555.05,609.39 558.42,618.63 561.80,622.74 565.18,623.77 568.56,623.77 571.94,613.50 575.32,605.28 578.70,618.63 582.08,601.17 585.46,607.34 588.84,591.93 592.22,599.12 595.60,613.50 598.98,564.21 602.36,610.42 605.74,620.69 609.12,614.52 612.50,610.42 615.88,557.02 619.26,532.37 622.64,542.64 626.01,508.75" fill="none" stroke="#000" stroke-width="1.42" stroke-linejoin="round" stroke-dasharray="2.8 2.75"/>
</g>
<rect x="377.75" y="436.9" width="260.3" height="197.90" fill="none" stroke="#333" stroke-width="1.4"/>
</g>
<line x1="104.55" x2="109.15" y1="626.15" y2="626.15" stroke="#333" stroke-width="1.4"/>
<text transform="translate(101.20,631.35) scale(1,1.07)" font-size="13.7" text-anchor="end" fill="#000">0</text>
<line x1="104.55" x2="109.15" y1="578.48" y2="578.48" stroke="#333" stroke-width="1.4"/>
<text transform="translate(101.20,583.68) scale(1,1.07)" font-size="13.7" text-anchor="end" fill="#000">50,000</text>
<line x1="104.55" x2="109.15" y1="530.81" y2="530.81" stroke="#333" stroke-width="1.4"/>
<text transform="translate(101.20,536.01) scale(1,1.07)" font-size="13.7" text-anchor="end" fill="#000">100,000</text>
<line x1="104.55" x2="109.15" y1="483.14" y2="483.14" stroke="#333" stroke-width="1.4"/>
<text transform="translate(101.20,488.34) scale(1,1.07)" font-size="13.7" text-anchor="end" fill="#000">150,000</text>
<line x1="638.05" x2="642.15" y1="626.15" y2="626.15" stroke="#333" stroke-width="1.4"/>
<text transform="translate(645.90,631.15) scale(1,1.07)" font-size="13.7" text-anchor="start" fill="#000">0.0</text>
<line x1="638.05" x2="642.15" y1="569.95" y2="569.95" stroke="#333" stroke-width="1.4"/>
<text transform="translate(645.90,574.95) scale(1,1.07)" font-size="13.7" text-anchor="start" fill="#000">0.5</text>
<line x1="638.05" x2="642.15" y1="513.75" y2="513.75" stroke="#333" stroke-width="1.4"/>
<text transform="translate(645.90,518.75) scale(1,1.07)" font-size="13.7" text-anchor="start" fill="#000">1.0</text>
<line x1="638.05" x2="642.15" y1="457.55" y2="457.55" stroke="#333" stroke-width="1.4"/>
<text transform="translate(645.90,462.55) scale(1,1.07)" font-size="13.7" text-anchor="start" fill="#000">1.5</text>
<text transform="translate(38.90,535.85) rotate(-90) scale(1,1.07)" font-size="14.15" text-anchor="middle" fill="#000">krill eggs density [n / 1000 m3]</text>
<g>
<clipPath id="c03"><rect x="109.15" y="643.6" width="259.65" height="198.60"/></clipPath>
<g clip-path="url(#c03)">
<line x1="109.15" x2="368.80" y1="811.38" y2="811.38" stroke="#ebebeb" stroke-width="0.75"/>
<line x1="109.15" x2="368.80" y1="767.04" y2="767.04" stroke="#ebebeb" stroke-width="0.75"/>
<line x1="109.15" x2="368.80" y1="722.71" y2="722.71" stroke="#ebebeb" stroke-width="0.75"/>
<line x1="109.15" x2="368.80" y1="678.37" y2="678.37" stroke="#ebebeb" stroke-width="0.75"/>
<line x1="120.30" x2="120.30" y1="643.6" y2="842.2" stroke="#ebebeb" stroke-width="0.75"/>
<line x1="188.02" x2="188.02" y1="643.6" y2="842.2" stroke="#ebebeb" stroke-width="0.75"/>
<line x1="255.74" x2="255.74" y1="643.6" y2="842.2" stroke="#ebebeb" stroke-width="0.75"/>
<line x1="323.46" x2="323.46" y1="643.6" y2="842.2" stroke="#ebebeb" stroke-width="0.75"/>
<line x1="109.15" x2="368.80" y1="833.55" y2="833.55" stroke="#ebebeb" stroke-width="1.4"/>
<line x1="109.15" x2="368.80" y1="789.21" y2="789.21" stroke="#ebebeb" stroke-width="1.4"/>
<line x1="109.15" x2="368.80" y1="744.88" y2="744.88" stroke="#ebebeb" stroke-width="1.4"/>
<line x1="109.15" x2="368.80" y1="700.54" y2="700.54" stroke="#ebebeb" stroke-width="1.4"/>
<line x1="109.15" x2="368.80" y1="656.20" y2="656.20" stroke="#ebebeb" stroke-width="1.4"/>
<line x1="154.16" x2="154.16" y1="643.6" y2="842.2" stroke="#ebebeb" stroke-width="1.4"/>
<line x1="221.88" x2="221.88" y1="643.6" y2="842.2" stroke="#ebebeb" stroke-width="1.4"/>
<line x1="289.60" x2="289.60" y1="643.6" y2="842.2" stroke="#ebebeb" stroke-width="1.4"/>
<line x1="357.32" x2="357.32" y1="643.6" y2="842.2" stroke="#ebebeb" stroke-width="1.4"/>
<polygon points="120.30,833.55 120.30,771.95 357.32,771.95 357.32,833.55" fill="#008b00" fill-opacity="0.55" stroke="none"/>
<polyline points="120.30,771.95 357.32,771.95" fill="none" stroke="#0a8a0a" stroke-width="1.42" stroke-linejoin="round"/>
<line x1="120.30" x2="357.32" y1="833.55" y2="833.55" stroke="#0a8a0a" stroke-width="1.42"/>
<polyline points="120.30,785.37 123.69,786.16 127.07,785.71 130.46,786.32 133.84,786.38 137.23,784.92 140.62,784.78 144.00,786.93 147.39,785.42 150.77,785.36 154.16,787.34 157.55,785.97 160.93,786.92 164.32,785.99 167.70,786.41 171.09,785.14 174.48,786.40 177.86,787.01 181.25,786.11 184.63,786.68 188.02,786.50 191.41,784.92 194.79,786.72 198.18,786.29 201.56,785.53 204.95,784.83 208.34,787.00 211.72,785.98 215.11,786.62 218.49,787.03 221.88,786.61 225.27,787.14 228.65,785.78 232.04,786.83 235.42,785.91 238.81,787.18 242.20,787.04 245.58,785.00 248.97,785.10 252.35,785.31 255.74,787.26 259.13,785.88 262.51,786.38 265.90,785.53 269.28,786.07 272.67,785.75 276.06,785.66 279.44,786.27 282.83,786.27 286.21,787.10 289.60,786.52 292.99,787.17 296.37,786.98 299.76,787.33 303.14,786.50 306.53,785.17 309.92,786.99 313.30,787.26 316.69,787.10 320.07,786.23 323.46,786.61 326.85,785.30 330.23,786.91 333.62,786.24 337.00,785.49 340.39,784.91 343.78,786.97 347.16,787.32 350.55,784.98 353.93,786.83 357.32,785.82" fill="none" stroke="#000" stroke-width="1.42" stroke-linejoin="round"/>
<polyline points="120.30,785.14 123.69,785.51 127.07,786.75 130.46,787.02 133.84,784.86 137.23,786.35 140.62,784.87 144.00,786.62 147.39,785.61 150.77,787.04 154.16,787.30 157.55,786.06 160.93,787.35 164.32,785.56 167.70,784.95 171.09,786.31 174.48,784.83 177.86,785.26 181.25,785.81 184.63,786.34 188.02,785.16 191.41,784.86 194.79,787.01 198.18,785.57 201.56,787.24 204.95,787.08 208.34,785.73 211.72,785.95 215.11,786.10 218.49,786.42 221.88,786.30 225.27,786.20 228.65,786.36 232.04,787.20 235.42,786.07 238.81,785.87 242.20,786.62 245.58,785.37 248.97,785.53 252.35,787.29 255.74,786.10 259.13,786.18 262.51,784.78 265.90,785.83 269.28,786.26 272.67,784.80 276.06,786.35 279.44,786.39 282.83,784.91 286.21,786.38 289.60,785.96 292.99,786.52 296.37,785.67 299.76,786.59 303.14,786.67 306.53,784.81 309.92,784.91 313.30,786.51 316.69,787.25 320.07,785.40 323.46,785.94 326.85,786.29 330.23,785.58 333.62,785.70 337.00,785.56 340.39,785.71 343.78,786.30 347.16,785.53 350.55,785.73 353.93,786.76 357.32,784.82" fill="none" stroke="#000" stroke-width="1.42" stroke-linejoin="round" stroke-dasharray="5.4 2.7"/>
</g>
<rect x="109.15" y="643.6" width="259.65" height="198.60" fill="none" stroke="#333" stroke-width="1.4"/>
</g>
<g>
<clipPath id="c13"><rect x="377.75" y="643.6" width="260.3" height="198.60"/></clipPath>
<g clip-path="url(#c13)">
<line x1="377.75" x2="638.05" y1="811.38" y2="811.38" stroke="#ebebeb" stroke-width="0.75"/>
<line x1="377.75" x2="638.05" y1="767.04" y2="767.04" stroke="#ebebeb" stroke-width="0.75"/>
<line x1="377.75" x2="638.05" y1="722.71" y2="722.71" stroke="#ebebeb" stroke-width="0.75"/>
<line x1="377.75" x2="638.05" y1="678.37" y2="678.37" stroke="#ebebeb" stroke-width="0.75"/>
<line x1="389.45" x2="389.45" y1="643.6" y2="842.2" stroke="#ebebeb" stroke-width="0.75"/>
<line x1="457.04" x2="457.04" y1="643.6" y2="842.2" stroke="#ebebeb" stroke-width="0.75"/>
<line x1="524.63" x2="524.63" y1="643.6" y2="842.2" stroke="#ebebeb" stroke-width="0.75"/>
<line x1="592.22" x2="592.22" y1="643.6" y2="842.2" stroke="#ebebeb" stroke-width="0.75"/>
<line x1="377.75" x2="638.05" y1="833.55" y2="833.55" stroke="#ebebeb" stroke-width="1.4"/>
<line x1="377.75" x2="638.05" y1="789.21" y2="789.21" stroke="#ebebeb" stroke-width="1.4"/>
<line x1="377.75" x2="638.05" y1="744.88" y2="744.88" stroke="#ebebeb" stroke-width="1.4"/>
<line x1="377.75" x2="638.05" y1="700.54" y2="700.54" stroke="#ebebeb" stroke-width="1.4"/>
<line x1="377.75" x2="638.05" y1="656.20" y2="656.20" stroke="#ebebeb" stroke-width="1.4"/>
<line x1="423.25" x2="423.25" y1="643.6" y2="842.2" stroke="#ebebeb" stroke-width="1.4"/>
<line x1="490.83" x2="490.83" y1="643.6" y2="842.2" stroke="#ebebeb" stroke-width="1.4"/>
<line x1="558.42" x2="558.42" y1="643.6" y2="842.2" stroke="#ebebeb" stroke-width="1.4"/>
<line x1="626.01" x2="626.01" y1="643.6" y2="842.2" stroke="#ebebeb" stroke-width="1.4"/>
<polygon points="389.45,833.55 389.45,780.66 392.83,793.48 396.21,776.05 399.59,772.34 402.97,779.61 406.35,786.57 408.21,790.57 409.73,787.65 413.11,724.76 416.49,718.55 419.87,756.51 423.25,794.48 426.62,779.35 430.00,748.70 433.38,749.30 436.76,652.33 440.14,701.31 443.52,753.61 446.90,779.65 450.28,803.10 453.66,772.74 457.04,793.18 460.42,797.09 463.80,756.01 467.18,772.34 470.56,768.83 473.94,782.66 477.32,729.97 480.70,746.50 484.08,703.32 487.46,731.97 490.83,768.83 494.21,771.04 497.59,792.48 500.97,779.35 504.35,762.22 507.73,714.64 511.11,753.01 514.49,782.66 517.87,741.89 521.25,738.18 524.63,758.92 528.01,786.37 531.39,757.41 534.77,764.83 538.15,782.66 541.53,740.48 544.91,699.71 548.29,763.53 551.67,772.74 555.05,778.05 558.42,808.31 561.80,814.22 565.18,789.27 568.56,767.13 571.94,793.18 575.32,782.86 578.70,714.64 582.08,764.83 585.46,776.05 588.84,762.22 592.22,757.41 595.60,773.44 598.98,805.00 602.36,809.01 605.74,798.49 609.12,782.66 612.50,771.44 615.88,759.62 619.26,661.94 622.64,677.37 626.01,762.22 626.01,833.55" fill="#008b00" fill-opacity="0.55" stroke="none"/>
<polyline points="389.45,780.66 392.83,793.48 396.21,776.05 399.59,772.34 402.97,779.61 406.35,786.57 408.21,790.57 409.73,787.65 413.11,724.76 416.49,718.55 419.87,756.51 423.25,794.48 426.62,779.35 430.00,748.70 433.38,749.30 436.76,652.33 440.14,701.31 443.52,753.61 446.90,779.65 450.28,803.10 453.66,772.74 457.04,793.18 460.42,797.09 463.80,756.01 467.18,772.34 470.56,768.83 473.94,782.66 477.32,729.97 480.70,746.50 484.08,703.32 487.46,731.97 490.83,768.83 494.21,771.04 497.59,792.48 500.97,779.35 504.35,762.22 507.73,714.64 511.11,753.01 514.49,782.66 517.87,741.89 521.25,738.18 524.63,758.92 528.01,786.37 531.39,757.41 534.77,764.83 538.15,782.66 541.53,740.48 544.91,699.71 548.29,763.53 551.67,772.74 555.05,778.05 558.42,808.31 561.80,814.22 565.18,789.27 568.56,767.13 571.94,793.18 575.32,782.86 578.70,714.64 582.08,764.83 585.46,776.05 588.84,762.22 592.22,757.41 595.60,773.44 598.98,805.00 602.36,809.01 605.74,798.49 609.12,782.66 612.50,771.44 615.88,759.62 619.26,661.94 622.64,677.37 626.01,762.22" fill="none" stroke="#0a8a0a" stroke-width="1.42" stroke-linejoin="round"/>
<line x1="389.45" x2="626.01" y1="833.55" y2="833.55" stroke="#0a8a0a" stroke-width="1.42"/>
<polyline points="389.45,799.11 392.83,823.75 396.21,793.56 399.59,793.97 402.97,796.02 406.35,816.97 409.73,804.24 413.11,716.95 416.49,738.52 419.87,818.21 423.25,810.40 426.62,781.65 430.00,748.38 433.38,767.27 436.76,673.82 440.14,789.86 443.52,789.86 446.90,817.59 450.28,824.78 453.66,789.86 457.04,832.58 460.42,823.75 463.80,762.14 467.18,805.27 470.56,785.76 473.94,814.51 477.32,736.46 480.70,795.00 484.08,738.52 487.46,775.49 490.83,793.97 494.21,784.73 497.59,822.72 500.97,791.92 504.35,757.00 507.73,706.68 511.11,800.13 514.49,804.24 517.87,734.41 521.25,759.06 524.63,791.92 528.01,812.45 531.39,754.95 534.77,798.08 538.15,803.21 541.53,734.41 544.91,688.20 548.29,825.80 551.67,790.89 555.05,808.35 558.42,831.97 561.80,832.58 565.18,826.83 568.56,775.49 571.94,829.91 575.32,789.86 578.70,695.39 582.08,828.89 585.46,796.02 588.84,771.38 592.22,765.22 595.60,800.13 598.98,830.94 602.36,830.94 605.74,820.67 609.12,787.81 612.50,788.84 615.88,771.38 619.26,653.28 622.64,707.71 626.01,808.35" fill="none" stroke="#000" stroke-width="1.42" stroke-linejoin="round"/>
<polyline points="389.45,799.16 392.83,823.62 396.21,793.98 399.59,793.75 402.97,796.31 406.35,817.08 409.73,804.00 413.11,717.21 416.49,738.26 419.87,818.38 423.25,810.18 426.62,781.45 430.00,748.54 433.38,767.88 436.76,673.66 440.14,789.81 443.52,790.25 446.90,818.33 450.28,825.11 453.66,790.00 457.04,833.36 460.42,823.50 463.80,762.78 467.18,805.29 470.56,785.61 473.94,814.34 477.32,736.50 480.70,795.60 484.08,738.42 487.46,775.83 490.83,794.37 494.21,784.84 497.59,823.03 500.97,791.69 504.35,756.77 507.73,706.61 511.11,800.58 514.49,804.41 517.87,734.46 521.25,759.40 524.63,792.12 528.01,812.48 531.39,755.52 534.77,798.55 538.15,803.18 541.53,734.74 544.91,688.48 548.29,826.47 551.67,791.39 555.05,808.36 558.42,832.74 561.80,832.41 565.18,826.99 568.56,776.02 571.94,829.78 575.32,790.10 578.70,695.13 582.08,829.32 585.46,796.57 588.84,771.71 592.22,765.88 595.60,800.18 598.98,831.40 602.36,831.29 605.74,821.01 609.12,788.01 612.50,789.46 615.88,772.12 619.26,653.51 622.64,708.14 626.01,808.11" fill="none" stroke="#000" stroke-width="1.42" stroke-linejoin="round" stroke-dasharray="5.4 2.7"/>
</g>
<rect x="377.75" y="643.6" width="260.3" height="198.60" fill="none" stroke="#333" stroke-width="1.4"/>
</g>
<line x1="104.55" x2="109.15" y1="833.55" y2="833.55" stroke="#333" stroke-width="1.4"/>
<text transform="translate(101.20,838.75) scale(1,1.07)" font-size="13.7" text-anchor="end" fill="#000">0</text>
<line x1="104.55" x2="109.15" y1="789.21" y2="789.21" stroke="#333" stroke-width="1.4"/>
<text transform="translate(101.20,794.41) scale(1,1.07)" font-size="13.7" text-anchor="end" fill="#000">5,000</text>
<line x1="104.55" x2="109.15" y1="744.88" y2="744.88" stroke="#333" stroke-width="1.4"/>
<text transform="translate(101.20,750.08) scale(1,1.07)" font-size="13.7" text-anchor="end" fill="#000">10,000</text>
<line x1="104.55" x2="109.15" y1="700.54" y2="700.54" stroke="#333" stroke-width="1.4"/>
<text transform="translate(101.20,705.74) scale(1,1.07)" font-size="13.7" text-anchor="end" fill="#000">15,000</text>
<line x1="104.55" x2="109.15" y1="656.20" y2="656.20" stroke="#333" stroke-width="1.4"/>
<text transform="translate(101.20,661.40) scale(1,1.07)" font-size="13.7" text-anchor="end" fill="#000">20,000</text>
<line x1="638.05" x2="642.15" y1="833.55" y2="833.55" stroke="#333" stroke-width="1.4"/>
<text transform="translate(645.90,838.55) scale(1,1.07)" font-size="13.7" text-anchor="start" fill="#000">0.0</text>
<line x1="638.05" x2="642.15" y1="777.35" y2="777.35" stroke="#333" stroke-width="1.4"/>
<text transform="translate(645.90,782.35) scale(1,1.07)" font-size="13.7" text-anchor="start" fill="#000">0.5</text>
<line x1="638.05" x2="642.15" y1="721.15" y2="721.15" stroke="#333" stroke-width="1.4"/>
<text transform="translate(645.90,726.15) scale(1,1.07)" font-size="13.7" text-anchor="start" fill="#000">1.0</text>
<line x1="638.05" x2="642.15" y1="664.95" y2="664.95" stroke="#333" stroke-width="1.4"/>
<text transform="translate(645.90,669.95) scale(1,1.07)" font-size="13.7" text-anchor="start" fill="#000">1.5</text>
<text transform="translate(38.90,742.90) rotate(-90) scale(1,1.07)" font-size="14.15" text-anchor="middle" fill="#000">salp density [n / 1000 m3]</text>
<line x1="154.16" x2="154.16" y1="842.2" y2="846.60" stroke="#333" stroke-width="1.4"/>
<text transform="translate(154.16,861.10) scale(1,1.07)" font-size="13.7" text-anchor="middle" fill="#000">40</text>
<line x1="221.88" x2="221.88" y1="842.2" y2="846.60" stroke="#333" stroke-width="1.4"/>
<text transform="translate(221.88,861.10) scale(1,1.07)" font-size="13.7" text-anchor="middle" fill="#000">60</text>
<line x1="289.60" x2="289.60" y1="842.2" y2="846.60" stroke="#333" stroke-width="1.4"/>
<text transform="translate(289.60,861.10) scale(1,1.07)" font-size="13.7" text-anchor="middle" fill="#000">80</text>
<line x1="357.32" x2="357.32" y1="842.2" y2="846.60" stroke="#333" stroke-width="1.4"/>
<text transform="translate(357.32,861.10) scale(1,1.07)" font-size="13.7" text-anchor="middle" fill="#000">100</text>
<line x1="423.25" x2="423.25" y1="842.2" y2="846.60" stroke="#333" stroke-width="1.4"/>
<text transform="translate(423.25,861.10) scale(1,1.07)" font-size="13.7" text-anchor="middle" fill="#000">40</text>
<line x1="490.83" x2="490.83" y1="842.2" y2="846.60" stroke="#333" stroke-width="1.4"/>
<text transform="translate(490.83,861.10) scale(1,1.07)" font-size="13.7" text-anchor="middle" fill="#000">60</text>
<line x1="558.42" x2="558.42" y1="842.2" y2="846.60" stroke="#333" stroke-width="1.4"/>
<text transform="translate(558.42,861.10) scale(1,1.07)" font-size="13.7" text-anchor="middle" fill="#000">80</text>
<line x1="626.01" x2="626.01" y1="842.2" y2="846.60" stroke="#333" stroke-width="1.4"/>
<text transform="translate(626.01,861.10) scale(1,1.07)" font-size="13.7" text-anchor="middle" fill="#000">100</text>
<text transform="translate(238.97,9.70) scale(1,1.07)" font-size="13.7" text-anchor="middle" fill="#000">Const</text>
<text transform="translate(507.90,9.70) scale(1,1.07)" font-size="13.7" text-anchor="middle" fill="#000">Lognorm</text>
<text transform="translate(373.50,880.10) scale(1,1.07)" font-size="16.7" text-anchor="middle" fill="#000">year</text>
<text transform="translate(13.10,431.90) rotate(-90) scale(1,1.07)" font-size="17.1" text-anchor="middle" fill="#000">model output</text>
<text transform="translate(671.60,431.90) rotate(90) scale(1,1.07)" font-size="17.25" text-anchor="middle" fill="#000">max chl <tspan font-style="italic">a</tspan> concentration [mg / m3]</text>
<rect x="107.8" y="898.8" width="24.6" height="24.4" fill="#008b00" fill-opacity="0.55" stroke="#0a8a0a" stroke-width="1.42"/>
<text transform="translate(142.00,916.90) scale(1,1.07)" font-size="13.6" text-anchor="start" fill="#000">chlorophyll a concentration</text>
<line x1="349" x2="370.3" y1="911" y2="911" stroke="#000" stroke-width="1.42"/>
<text transform="translate(382.00,916.90) scale(1,1.07)" font-size="13.7" text-anchor="start" fill="#000">krill &amp; salps</text>
<line x1="462.1" x2="483.4" y1="911" y2="911" stroke="#000" stroke-width="1.42" stroke-dasharray="2.8 2.75"/>
<text transform="translate(495.50,916.90) scale(1,1.07)" font-size="13.7" text-anchor="start" fill="#000">krill only</text>
<line x1="555.8" x2="577.1" y1="911" y2="911" stroke="#000" stroke-width="1.42" stroke-dasharray="5.4 2.7"/>
<text transform="translate(589.00,916.90) scale(1,1.07)" font-size="13.7" text-anchor="start" fill="#000">salps only</text>
</svg>
</body></html>
